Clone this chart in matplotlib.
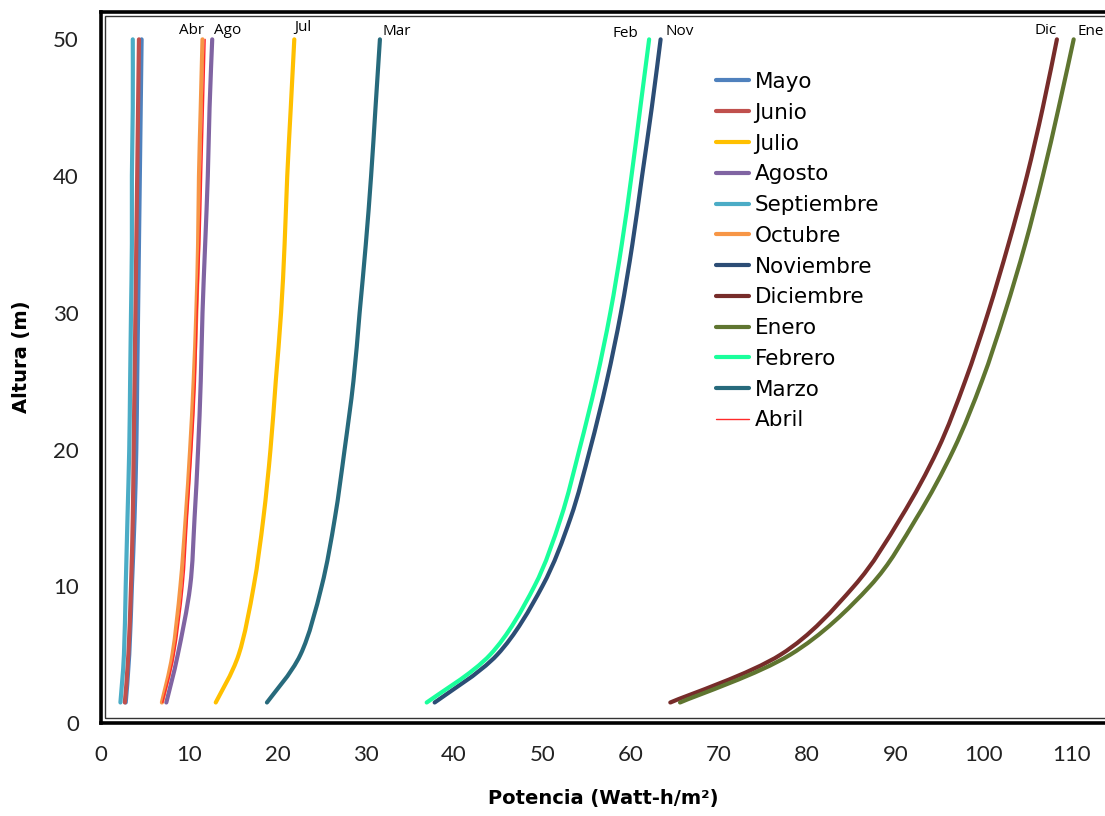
import matplotlib
matplotlib.use("Agg")
import matplotlib.pyplot as plt
from matplotlib.patches import Rectangle, PathPatch
from matplotlib.path import Path
from matplotlib.lines import Line2D

# ---- data ----
alturas = [1.5, 5, 10, 15, 20, 25, 30, 35, 40, 45, 50]

mayo       = [2.8, 3.2, 3.5, 3.8, 4.0, 4.1, 4.2, 4.3, 4.4, 4.5, 4.6]
junio      = [2.7, 3.1, 3.4, 3.6, 3.7, 3.8, 3.9, 4.0, 4.1, 4.2, 4.3]
julio      = [13.0, 15.6, 17.3, 18.4, 19.2, 19.8, 20.4, 20.8, 21.1, 21.5, 21.9]
agosto     = [7.4, 8.7, 10.1, 10.6, 11.0, 11.3, 11.5, 11.8, 12.1, 12.3, 12.6]
septiembre = [2.2, 2.6, 2.8, 3.0, 3.2, 3.3, 3.4, 3.5, 3.5, 3.6, 3.6]
octubre    = [6.9, 8.1, 9.0, 9.6, 10.1, 10.5, 10.8, 11.0, 11.1, 11.3, 11.5]
noviembre  = [37.8, 44.9, 50.0, 53.2, 55.4, 57.3, 58.9, 60.2, 61.3, 62.4, 63.4]
diciembre  = [64.5, 77.0, 85.3, 90.6, 94.8, 97.9, 100.5, 102.8, 104.9, 106.7, 108.3]
enero      = [65.6, 78.1, 87.1, 92.4, 96.6, 99.8, 102.4, 104.7, 106.7, 108.5, 110.2]
febrero    = [36.9, 44.1, 49.1, 52.1, 54.2, 56.1, 57.7, 59.0, 60.1, 61.1, 62.1]
marzo      = [18.8, 22.6, 25.0, 26.5, 27.6, 28.6, 29.3, 30.0, 30.6, 31.1, 31.6]
abril      = [7.0, 8.3, 9.3, 9.8, 10.3, 10.7, 10.9, 11.2, 11.4, 11.6, 11.8]

meses = ["Mayo", "Junio", "Julio", "Agosto", "Septiembre", "Octubre",
         "Noviembre", "Diciembre", "Enero", "Febrero", "Marzo", "Abril"]
series = [mayo, junio, julio, agosto, septiembre, octubre,
          noviembre, diciembre, enero, febrero, marzo, abril]
etiquetas_sup = {"Abril": "Abr", "Agosto": "Ago", "Julio": "Jul", "Marzo": "Mar",
                 "Febrero": "Feb", "Noviembre": "Nov", "Diciembre": "Dic", "Enero": "Ene"}

x_ticks = [0, 10, 20, 30, 40, 50, 60, 70, 80, 90, 100, 110]
y_ticks = [0, 10, 20, 30, 40, 50]

# ---- styles ----
colores = {"Mayo": "#4F81BD", "Junio": "#C0504D", "Julio": "#FFC000",
           "Agosto": "#8064A2", "Septiembre": "#4BACC6", "Octubre": "#F79646",
           "Noviembre": "#2C4D75", "Diciembre": "#772C2A", "Enero": "#5F7530",
           "Febrero": "#1AFF9C", "Marzo": "#276A7C", "Abril": "#FF2A2A"}
offsets = {"Abr": -10, "Ago": 11, "Jul": 6, "Mar": 12,
           "Feb": -17, "Nov": 14, "Dic": -8, "Ene": 12}
offsets_y = {"Abr": 1, "Ago": 1, "Jul": 3, "Mar": 0,
             "Feb": -1, "Nov": 0, "Dic": 1, "Ene": 0}

TICKFONT = "Lato"
TEXTFONT = "DejaVu Sans"


def smooth_path(xs, ys):
    """Excel-style smoothed line: cubic Bezier through every point."""
    pts = list(zip(xs, ys))
    n = len(pts)
    verts = [pts[0]]
    codes = [Path.MOVETO]
    for i in range(n - 1):
        p0 = pts[i - 1] if i > 0 else pts[i]
        p1 = pts[i]
        p2 = pts[i + 1]
        p3 = pts[i + 2] if i + 2 < n else pts[i + 1]
        c1 = (p1[0] + (p2[0] - p0[0]) / 6, p1[1] + (p2[1] - p0[1]) / 6)
        c2 = (p2[0] - (p3[0] - p1[0]) / 6, p2[1] - (p3[1] - p1[1]) / 6)
        verts += [c1, c2, p2]
        codes += [Path.CURVE4] * 3
    return Path(verts, codes)


fig = plt.figure(figsize=(11.05, 8.16), dpi=100)
W, H = 1105, 816
ax = fig.add_axes([101 / W, 1 - 723 / H, 1 - 101 / W + 0.01, (723 - 12) / H])

handles = []
for mes, vals in zip(meses, series):
    lw = 1.0 if mes == "Abril" else 3.0
    patch = PathPatch(smooth_path(vals, alturas), facecolor="none",
                      edgecolor=colores[mes], lw=lw, capstyle="round",
                      joinstyle="round", transform=ax.transData)
    ax.add_patch(patch)
    handles.append(Line2D([], [], color=colores[mes], lw=lw,
                          solid_capstyle="round", label=mes))
    if mes in etiquetas_sup:
        lab = etiquetas_sup[mes]
        ax.annotate(lab, xy=(vals[-1], alturas[-1]),
                    xytext=(offsets[lab], offsets_y[lab]), textcoords="offset points",
                    ha="center", va="bottom", fontsize=11, family="Open Sans",
                    color="black")

ax.set_xlim(0, 115)
ax.set_ylim(0, 52)
ax.set_xticks(x_ticks)
ax.set_yticks(y_ticks)
ax.tick_params(length=0, labelsize=16, pad=16)
for t in ax.get_xticklabels() + ax.get_yticklabels():
    t.set_family(TICKFONT)
    t.set_color("#222222")

for s in ["left", "bottom", "top"]:
    ax.spines[s].set_linewidth(2.6)
    ax.spines[s].set_color("black")
ax.spines["right"].set_visible(False)

# inner thin border line (double frame)
inner = Rectangle((105 / W, 1 - 718 / H), 1.0, (718 - 16) / H,
                  transform=fig.transFigure, fill=False, lw=1.0,
                  edgecolor="#333333", zorder=5)
fig.patches.append(inner)

ax.set_xlabel("Potencia (Watt-h/m²)", fontsize=14, fontweight="bold", family=TEXTFONT)
ax.set_ylabel("Altura (m)", fontsize=14, fontweight="bold", family=TEXTFONT)
ax.xaxis.set_label_coords((598 - 101) / 1004, -(789 - 723) / 711)
ax.yaxis.set_label_coords(-(101 - 32) / 1004, (723 - 357) / 711)

leg = ax.legend(handles=handles, loc="upper left",
                bbox_to_anchor=((709 - 101) / 1004, (723 - 72) / 711),
                frameon=False, borderaxespad=0, borderpad=0,
                prop={"family": TEXTFONT, "size": 15.5}, labelspacing=0.5,
                handlelength=1.55, handletextpad=0.25)

fig.savefig("out.png", dpi=100)
